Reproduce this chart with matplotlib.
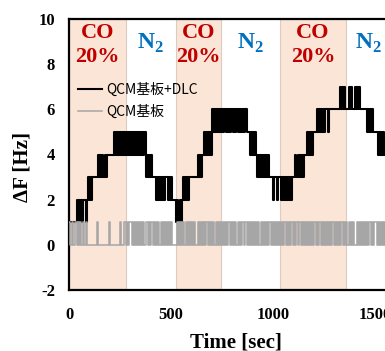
import numpy as np
import matplotlib
matplotlib.use('Agg')
import matplotlib.pyplot as plt
from matplotlib.font_manager import FontProperties

plt.rcParams['axes.unicode_minus'] = False
plt.rcParams['mathtext.fontset'] = 'custom'
plt.rcParams['mathtext.rm'] = 'Liberation Serif'
plt.rcParams['mathtext.bf'] = 'Liberation Serif:bold'

# sampling interval of the recorded signal [sec]
dt = 5

# QCM基板+DLC : frequency shift level per sample (digits = ΔF in Hz), 100 s per chunk
black_chunks = [
    "11111111212121222123",
    "23233333434343343444",
    "44445454545454545454",
    "54545454545454534343",
    "43333232323232333232",
    "32222121121232323233",
    "33333343434454545454",
    "65656565656566565656",
    "65656656565656555454",
    "54543434343434343333",
    "23332333232323232323",
    "33434343434445454545",
    "55565656565666566666",
    "66666676767666767666",
    "76767666666656565655",
    "55545454544444444444",
]

# QCM基板 : frequency shift level per sample
gray_chunks = [
    "10010011010100100100",
    "00000001000000000001",
    "00000000001000110101",
    "11010101010101011010",
    "11010101001010101010",
    "10000010101010010101",
    "01010010101010110101",
    "01001010101010101101",
    "01010010101101010101",
    "01010100101010101101",
    "01010101010110101011",
    "01010110101010101010",
    "11010110101010101011",
    "01010101101010101010",
    "00101010101010110101",
    "11010101010101010101",
]

co_windows = [(0, 279), (524, 745), (1034, 1358)]
n2_centers = [401, 890, 1470]
xticks = [0, 500, 1000, 1500]
yticks = [-2, 0, 2, 4, 6, 8, 10]
labels = ['QCM基板+DLC', 'QCM基板']

black = np.array([int(c) for c in ''.join(black_chunks)], dtype=float)
gray = np.array([int(c) for c in ''.join(gray_chunks)], dtype=float)
t_black = np.arange(len(black)) * dt
t_gray = np.arange(len(gray)) * dt

fig = plt.figure(figsize=(3.85, 3.51), dpi=100)
ax = fig.add_axes([69 / 385, 61 / 351, 334.6 / 385, 271 / 351])

for a, b in co_windows:
    ax.axvspan(a, b, facecolor='#FBE5D6', edgecolor='#DCCBC2', lw=0.8, zorder=0)

ax.plot(t_black, black, drawstyle='steps-post', color='black', lw=1.5, label=labels[0], zorder=2)
ax.plot(t_gray, gray, drawstyle='steps-post', color='#A6A6A6', lw=1.1, label=labels[1], zorder=3)

ax.set_xlim(0, 1640)
ax.set_ylim(-2, 10)
ax.set_xticks(xticks)
ax.set_yticks(yticks)
ax.set_xticklabels([str(v) for v in xticks])
ax.set_yticklabels([str(v) for v in yticks])
ax.tick_params(length=0)
ax.tick_params(axis='y', pad=10)
ax.tick_params(axis='x', pad=12)
for lab in ax.get_xticklabels() + ax.get_yticklabels():
    lab.set_fontfamily('Liberation Serif')
    lab.set_fontweight('bold')
    lab.set_fontsize(12)

for s in ax.spines.values():
    s.set_linewidth(1.6)

ax.set_xlabel('Time [sec]', fontfamily='Liberation Serif', fontweight='bold', fontsize=15)
ax.xaxis.set_label_coords(0.5, -0.158)
ax.set_ylabel('ΔF [Hz]', fontfamily='Liberation Serif', fontweight='bold', fontsize=15)
ax.yaxis.set_label_coords(-0.108, 0.454)

for a, b in co_windows:
    c = (a + b) / 2
    ax.text(c, 9.36, 'CO', color='#C00000', fontfamily='Liberation Serif', fontweight='bold',
            fontsize=16, ha='center', va='center', clip_on=False)
    ax.text(c, 8.33, '20%', color='#C00000', fontfamily='Liberation Serif', fontweight='bold',
            fontsize=16, ha='center', va='center', clip_on=False)
for c in n2_centers:
    ax.text(c, 8.93, r'$\mathbf{N}_\mathbf{2}$', color='#0070C0', fontsize=17,
            ha='center', va='center', clip_on=False)

leg = ax.legend(loc='upper left', bbox_to_anchor=(0.027, 0.765), frameon=False,
                prop=FontProperties(family='Noto Sans CJK JP', size=10),
                handlelength=1.75, handletextpad=0.25, labelspacing=0.6,
                borderaxespad=0, borderpad=0)

fig.savefig('out.png', dpi=100)
